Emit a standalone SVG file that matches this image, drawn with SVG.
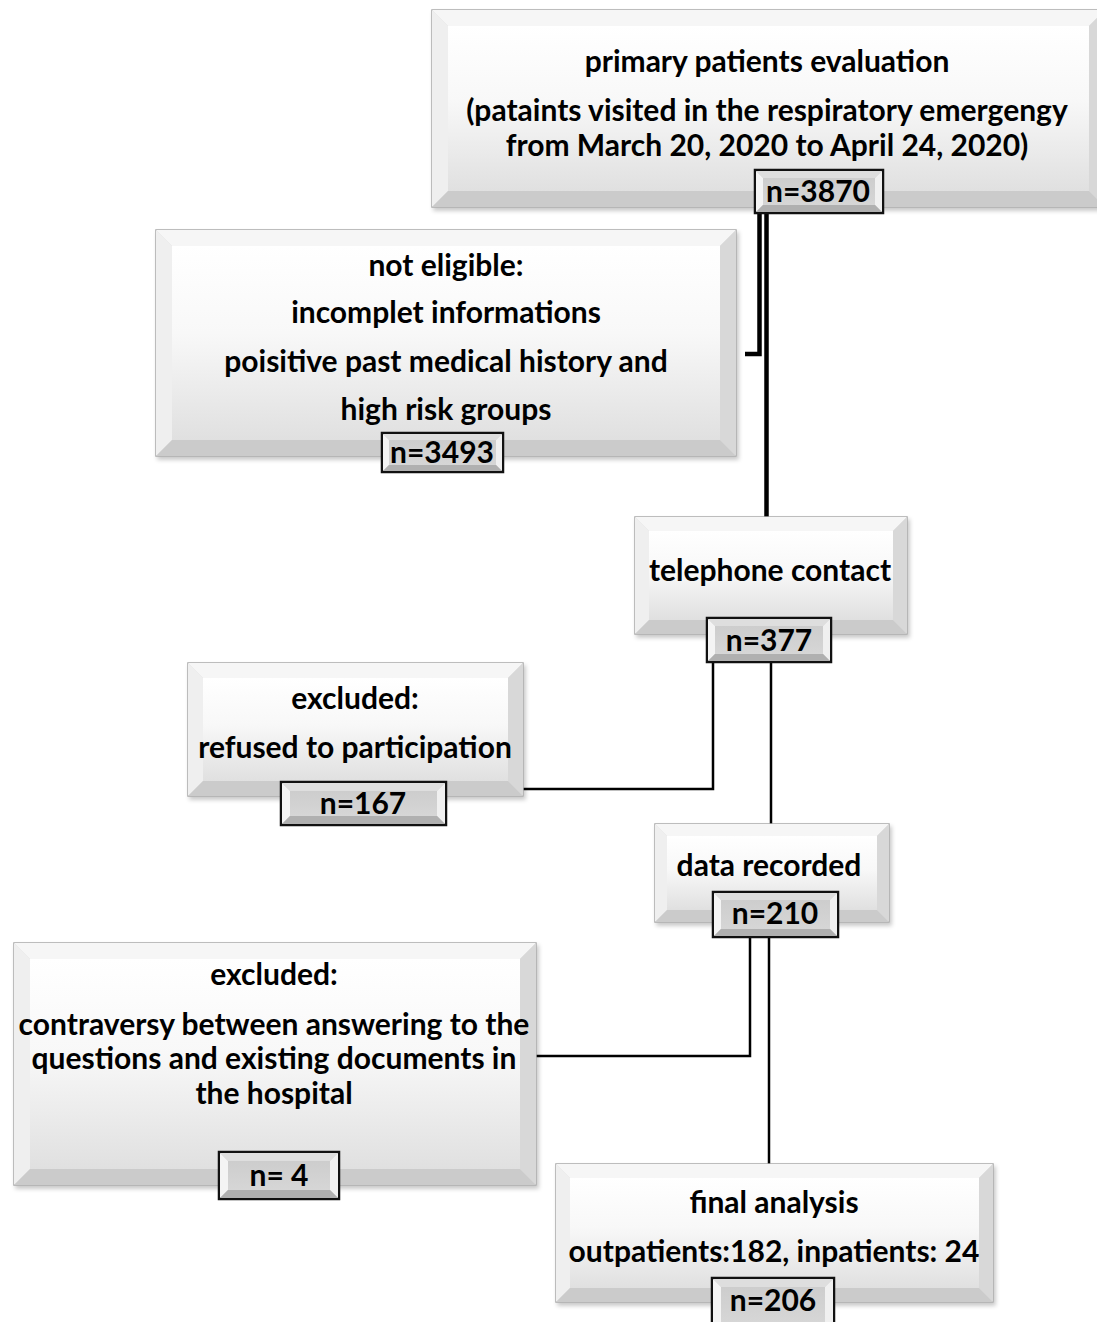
<svg xmlns="http://www.w3.org/2000/svg" width="1097" height="1322" viewBox="0 0 1097 1322">
<style>
text{font-family:Lato,"Liberation Sans",sans-serif;font-weight:bold;fill:#000;text-anchor:middle}
.t{font-size:30px}
.n{font-size:30px}
.rim{fill:#dcdcdc;stroke:#a9a9a9;stroke-width:1.5}
.bt{fill:#f6f6f6}
.bl{fill:#efefef}
.br{fill:#d8d8d8}
.bb{fill:#cbcbcb}
.face{fill:url(#faceG)}
.lrim{fill:#c9c9c9;stroke:#111;stroke-width:2.5}
.lt{fill:#dedede}
.ll{fill:#f4f4f4}
.lr{fill:#f0f0f0}
.lb{fill:#b0b0b0}
.lface{fill:url(#lfaceG)}
.c{fill:none;stroke:#000;stroke-width:2.5}
.ct{fill:none;stroke:#000;stroke-width:4.5}
</style>
<defs>
<linearGradient id="faceG" x1="0" y1="0" x2="0" y2="1"><stop offset="0" stop-color="#ffffff"/><stop offset="0.45" stop-color="#f8f8f8"/><stop offset="1" stop-color="#e0e0e0"/></linearGradient>
<linearGradient id="lfaceG" x1="0" y1="0" x2="0" y2="1"><stop offset="0" stop-color="#cdcdcd"/><stop offset="1" stop-color="#d6d6d6"/></linearGradient>
<filter id="sh" x="-5%" y="-5%" width="112%" height="115%"><feDropShadow dx="2" dy="3" stdDeviation="2" flood-color="#000" flood-opacity="0.22"/></filter>
</defs>

<g id="connectors">
<path class="ct" d="M759.5 213 V354 H745"/>
<path class="ct" d="M766.5 213 V517"/>
<path class="c" d="M713 662 V789 H523"/>
<path class="c" d="M771 662 V824"/>
<path class="c" d="M750 937 V1056 H536"/>
<path class="c" d="M769 937 V1164"/>
</g>

<g id="node-primary">
<g filter="url(#sh)"><rect class="rim" x="432" y="10" width="673" height="197"/></g>
<polygon class="bt" points="432,10 1105,10 1089,26 448,26"/>
<polygon class="bl" points="432,10 448,26 448,191 432,207"/>
<polygon class="br" points="1105,10 1105,207 1089,191 1089,26"/>
<polygon class="bb" points="432,207 448,191 1089,191 1105,207"/>
<rect class="face" x="448" y="26" width="641" height="165"/>
<text class="t" x="767" y="72">primary patients evaluation</text>
<text class="t" x="767" y="121">(pataints visited in the respiratory emergengy</text>
<text class="t" x="767" y="156">from March 20, 2020 to April 24, 2020)</text>
<g id="label-3870">
<rect class="lrim" x="755" y="170" width="128" height="43"/>
<polygon class="lt" points="756,171 882,171 875,178 763,178"/>
<polygon class="ll" points="756,171 763,178 763,205 756,212"/>
<polygon class="lr" points="882,171 882,212 875,205 875,178"/>
<polygon class="lb" points="756,212 763,205 875,205 882,212"/>
<rect class="lface" x="763" y="178" width="112" height="27"/>
<text class="n" x="818" y="202">n=3870</text>
</g>
</g>

<g id="node-not-eligible">
<g filter="url(#sh)"><rect class="rim" x="156" y="230" width="580" height="226"/></g>
<polygon class="bt" points="156,230 736,230 720,246 172,246"/>
<polygon class="bl" points="156,230 172,246 172,440 156,456"/>
<polygon class="br" points="736,230 736,456 720,440 720,246"/>
<polygon class="bb" points="156,456 172,440 720,440 736,456"/>
<rect class="face" x="172" y="246" width="548" height="194"/>
<text class="t" x="446" y="276">not eligible:</text>
<text class="t" x="446" y="323">incomplet informations</text>
<text class="t" x="446" y="372">poisitive past medical history and</text>
<text class="t" x="446" y="420">high risk groups</text>
<g id="label-3493">
<rect class="lrim" x="382" y="433" width="121" height="39"/>
<polygon class="lt" points="383,434 502,434 496,440 389,440"/>
<polygon class="ll" points="383,434 389,440 389,465 383,471"/>
<polygon class="lr" points="502,434 502,471 496,465 496,440"/>
<polygon class="lb" points="383,471 389,465 496,465 502,471"/>
<rect class="lface" x="389" y="440" width="107" height="25"/>
<text class="n" x="442" y="463">n=3493</text>
</g>
</g>

<g id="node-telephone">
<g filter="url(#sh)"><rect class="rim" x="635" y="517" width="272" height="117"/></g>
<polygon class="bt" points="635,517 907,517 893,531 649,531"/>
<polygon class="bl" points="635,517 649,531 649,620 635,634"/>
<polygon class="br" points="907,517 907,634 893,620 893,531"/>
<polygon class="bb" points="635,634 649,620 893,620 907,634"/>
<rect class="face" x="649" y="531" width="244" height="89"/>
<text class="t" x="770" y="581">telephone contact</text>
<g id="label-377">
<rect class="lrim" x="707" y="618" width="124" height="44"/>
<polygon class="lt" points="708,619 830,619 823,626 715,626"/>
<polygon class="ll" points="708,619 715,626 715,654 708,661"/>
<polygon class="lr" points="830,619 830,661 823,654 823,626"/>
<polygon class="lb" points="708,661 715,654 823,654 830,661"/>
<rect class="lface" x="715" y="626" width="108" height="28"/>
<text class="n" x="769" y="651">n=377</text>
</g>
</g>

<g id="node-refused">
<g filter="url(#sh)"><rect class="rim" x="188" y="663" width="335" height="133"/></g>
<polygon class="bt" points="188,663 523,663 508,678 203,678"/>
<polygon class="bl" points="188,663 203,678 203,781 188,796"/>
<polygon class="br" points="523,663 523,796 508,781 508,678"/>
<polygon class="bb" points="188,796 203,781 508,781 523,796"/>
<rect class="face" x="203" y="678" width="305" height="103"/>
<text class="t" x="355" y="709">excluded:</text>
<text class="t" x="355" y="758">refused to participation</text>
<g id="label-167">
<rect class="lrim" x="281" y="782" width="165" height="43"/>
<polygon class="lt" points="282,783 445,783 437,791 290,791"/>
<polygon class="ll" points="282,783 290,791 290,816 282,824"/>
<polygon class="lr" points="445,783 445,824 437,816 437,791"/>
<polygon class="lb" points="282,824 290,816 437,816 445,824"/>
<rect class="lface" x="290" y="791" width="147" height="25"/>
<text class="n" x="363" y="814">n=167</text>
</g>
</g>

<g id="node-data">
<g filter="url(#sh)"><rect class="rim" x="655" y="824" width="234" height="98"/></g>
<polygon class="bt" points="655,824 889,824 877,836 667,836"/>
<polygon class="bl" points="655,824 667,836 667,910 655,922"/>
<polygon class="br" points="889,824 889,922 877,910 877,836"/>
<polygon class="bb" points="655,922 667,910 877,910 889,922"/>
<rect class="face" x="667" y="836" width="210" height="74"/>
<text class="t" x="769" y="876">data recorded</text>
<g id="label-210">
<rect class="lrim" x="713" y="892" width="125" height="45"/>
<polygon class="lt" points="714,893 837,893 830,900 721,900"/>
<polygon class="ll" points="714,893 721,900 721,929 714,936"/>
<polygon class="lr" points="837,893 837,936 830,929 830,900"/>
<polygon class="lb" points="714,936 721,929 830,929 837,936"/>
<rect class="lface" x="721" y="900" width="109" height="29"/>
<text class="n" x="775" y="924">n=210</text>
</g>
</g>

<g id="node-contraversy">
<g filter="url(#sh)"><rect class="rim" x="14" y="943" width="522" height="242"/></g>
<polygon class="bt" points="14,943 536,943 520,959 30,959"/>
<polygon class="bl" points="14,943 30,959 30,1169 14,1185"/>
<polygon class="br" points="536,943 536,1185 520,1169 520,959"/>
<polygon class="bb" points="14,1185 30,1169 520,1169 536,1185"/>
<rect class="face" x="30" y="959" width="490" height="210"/>
<text class="t" x="274" y="985">excluded:</text>
<text class="t" x="274" y="1035">contraversy between answering to the</text>
<text class="t" x="274" y="1069">questions and existing documents in</text>
<text class="t" x="274" y="1104">the hospital</text>
<g id="label-4">
<rect class="lrim" x="219" y="1152" width="120" height="47"/>
<polygon class="lt" points="220,1153 338,1153 330,1161 228,1161"/>
<polygon class="ll" points="220,1153 228,1161 228,1190 220,1198"/>
<polygon class="lr" points="338,1153 338,1198 330,1190 330,1161"/>
<polygon class="lb" points="220,1198 228,1190 330,1190 338,1198"/>
<rect class="lface" x="228" y="1161" width="102" height="29"/>
<text class="n" x="279" y="1186">n= 4</text>
</g>
</g>

<g id="node-final">
<g filter="url(#sh)"><rect class="rim" x="556" y="1164" width="437" height="138"/></g>
<polygon class="bt" points="556,1164 993,1164 979,1178 570,1178"/>
<polygon class="bl" points="556,1164 570,1178 570,1288 556,1302"/>
<polygon class="br" points="993,1164 993,1302 979,1288 979,1178"/>
<polygon class="bb" points="556,1302 570,1288 979,1288 993,1302"/>
<rect class="face" x="570" y="1178" width="409" height="110"/>
<text class="t" x="774" y="1213">final analysis</text>
<text class="t" x="774" y="1262">outpatients:182, inpatients: 24</text>
<g id="label-206">
<rect class="lrim" x="712" y="1278" width="122" height="50"/>
<polygon class="lt" points="713,1279 833,1279 825,1287 721,1287"/>
<polygon class="ll" points="713,1279 721,1287 721,1322 713,1322"/>
<polygon class="lr" points="833,1279 833,1322 825,1322 825,1287"/>
<rect class="lface" x="721" y="1287" width="104" height="35"/>
<text class="n" x="773" y="1311">n=206</text>
</g>
</g>
</svg>
